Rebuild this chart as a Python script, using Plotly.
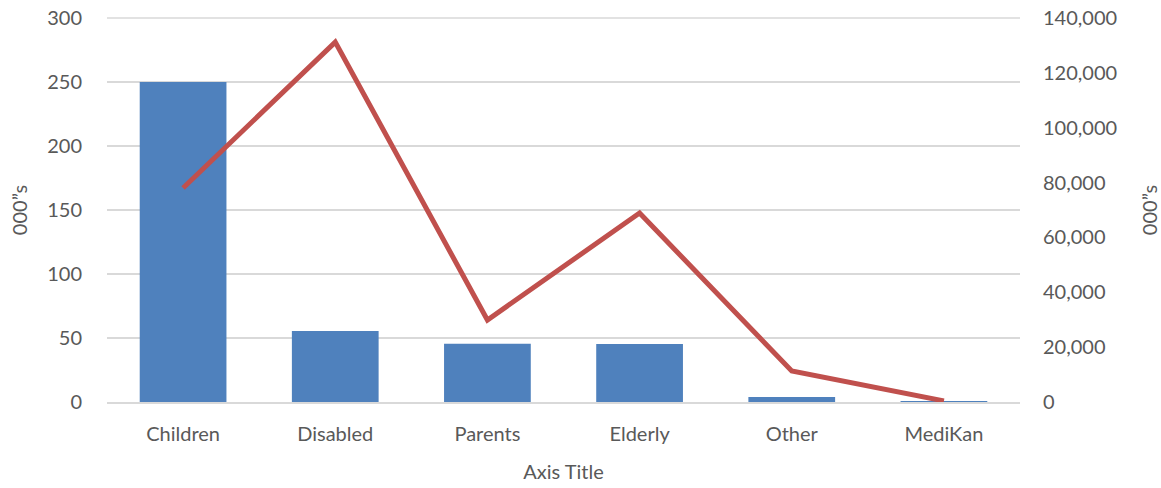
import plotly.graph_objects as go

categories = ["Children", "Disabled", "Parents", "Elderly", "Other", "MediKan"]
bar_values = [250, 55.5, 45.5, 45.3, 4, 0.3]
line_values = [78000, 131200, 29900, 68900, 11300, 400]
left_ticks = [0, 50, 100, 150, 200, 250, 300]
right_ticks = [0, 20000, 40000, 60000, 80000, 100000, 120000, 140000]

FONT = "Lato, 'Open Sans', sans-serif"
TXT = "#595959"
GRID = "#d9d9d9"

fig = go.Figure()
fig.add_trace(go.Bar(x=categories, y=bar_values, marker=dict(color="#4f81bd", line=dict(width=0)),
                     width=0.57, yaxis="y", showlegend=False))
fig.add_trace(go.Scatter(x=categories, y=line_values, mode="lines",
                         line=dict(color="#c0504d", width=5), yaxis="y2", showlegend=False))

fig.update_layout(
    width=1161, height=488,
    margin=dict(l=107, r=141, t=18, b=86, autoexpand=False),
    paper_bgcolor="white", plot_bgcolor="white",
    font=dict(family=FONT, size=20, color=TXT),
    xaxis=dict(title=dict(text="Axis Title", font=dict(size=20, color=TXT), standoff=21),
               showgrid=False, showline=True, linecolor=GRID, linewidth=1.5,
               ticks="", ticklabelstandoff=13, tickfont=dict(size=20, color=TXT), automargin=False),
    yaxis=dict(range=[0, 300], tickvals=left_ticks, showgrid=True, gridcolor=GRID, gridwidth=1.5,
               zeroline=False, showline=False, ticks="", ticklabelstandoff=24,
               title=dict(text="000\u201ds", font=dict(size=20, color=TXT), standoff=14),
               tickfont=dict(size=20, color=TXT), automargin=False),
    yaxis2=dict(range=[0, 140000], tickvals=right_ticks, overlaying="y", side="right",
                showgrid=False, zeroline=False, showline=False, ticks="", tickformat=",",
                ticklabelstandoff=22, automargin=False,
                title=dict(text="000\u201ds", font=dict(size=20, color=TXT), standoff=26),
                tickfont=dict(size=20, color=TXT)),
    shapes=[dict(type="line", xref="paper", yref="paper", x0=0, x1=1, y0=1, y1=1,
                 line=dict(color=GRID, width=1.5), layer="below")],
)

fig.write_html("out.html")
